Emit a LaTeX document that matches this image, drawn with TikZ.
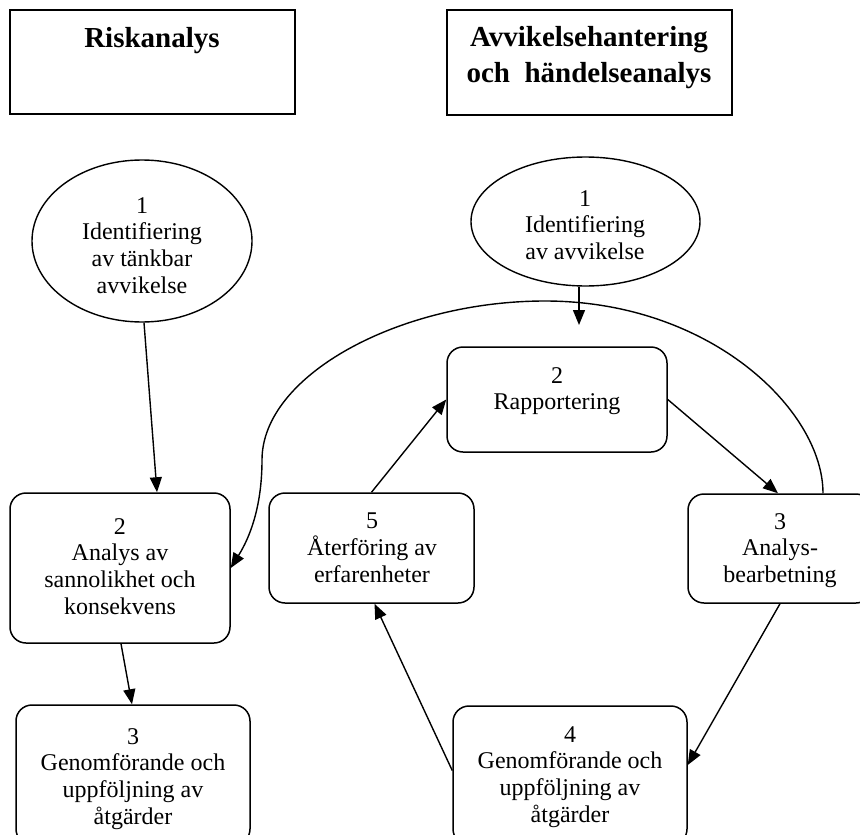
\documentclass[tikz,border=0pt]{standalone}
\usepackage{fontspec}
\setmainfont{Liberation Serif}
\usetikzlibrary{arrows.meta,shapes.geometric}
\begin{document}
\begin{tikzpicture}[x=1pt,y=-1pt,
  box/.style={draw,line width=1.5pt,rounded corners=16pt,inner sep=0pt},
  titlebox/.style={draw,line width=1.5pt,inner sep=0pt},
  oval/.style={draw,ellipse,line width=1.4pt,inner sep=0pt},
  txt/.style={align=center,font=\fontsize{24}{26.7}\selectfont,inner sep=0pt,anchor=north},
  ttl/.style={align=center,font=\fontsize{29}{36}\selectfont\bfseries,inner sep=0pt,anchor=north},
  arr/.style={line width=1.4pt,-{Triangle[length=15pt,width=12pt]}},
]
\useasboundingbox (0,0) rectangle (860,835);
\clip (0,0) rectangle (860,835);
% title boxes
\node[titlebox,minimum width=285pt,minimum height=104pt] (T1) at (152.5,62) {};
\node[ttl] (T1t) at (152,27) {Riskanalys};
\node[titlebox,minimum width=285pt,minimum height=105pt] (T2) at (589.5,62.5) {};
\node[ttl] (T2t) at (589,26) {Avvikelsehantering\\och\ \ händelseanalys};
% left column
\node[oval,minimum width=220pt,minimum height=162pt] (E1) at (142,241) {};
\node[txt] (E1t) at (142,197) {1\\Identifiering\\av tänkbar\\avvikelse};
\node[box,minimum width=220pt,minimum height=150pt] (L2) at (120,568) {};
\node[txt] (L2t) at (120,518) {2\\Analys av\\sannolikhet och\\konsekvens};
\node[box,minimum width=234pt,minimum height=140pt] (L3) at (133,775) {};
\node[txt] (L3t) at (133,728) {3\\Genomförande och\\uppföljning av\\åtgärder};
% right cycle
\node[oval,minimum width=229pt,minimum height=129pt] (E2) at (585.5,221.5) {};
\node[txt] (E2t) at (585,190) {1\\Identifiering\\av avvikelse};
\node[box,minimum width=220pt,minimum height=105pt] (R2) at (557,399.5) {};
\node[txt] (R2t) at (557,367) {2\\Rapportering};
\node[box,minimum width=184pt,minimum height=109pt] (R3) at (780,548.5) {};
\node[txt] (R3t) at (780,513) {3\\Analys-\\bearbetning};
\node[box,minimum width=234pt,minimum height=139pt] (B4) at (570,775.5) {};
\node[txt] (B4t) at (570,726) {4\\Genomförande och\\uppföljning av\\åtgärder};
\node[box,minimum width=205pt,minimum height=110pt] (R5) at (371.5,548) {};
\node[txt] (R5t) at (372,513) {5\\Återföring av\\erfarenheter};
\coordinate (E2end) at (579,325);
% connectors
\draw[arr] ([xshift=2pt]E1.south) -- ([xshift=37pt]L2.north);
\draw[arr] ([xshift=1pt]L2.south) -- ([xshift=-1pt]L3.north);
\draw[arr] ([xshift=-6.5pt]E2.south) -- (E2end);
\draw[arr] (R2.east) -- ([xshift=-2pt]R3.north);
\draw[arr] (R3.south) -- ([yshift=10.5pt]B4.east);
\draw[arr] ([yshift=5pt]B4.west) -- ([xshift=3pt]R5.south);
\draw[arr] (R5.north) -- (R2.west);
\draw[arr] ([xshift=43pt]R3.north) .. controls (823,410) and (710,301) .. (545,301)
  .. controls (400,301) and (262,375) .. (262,460)
  .. controls (262,515) and (245,545) .. (L2.east);
\end{tikzpicture}
\end{document}
